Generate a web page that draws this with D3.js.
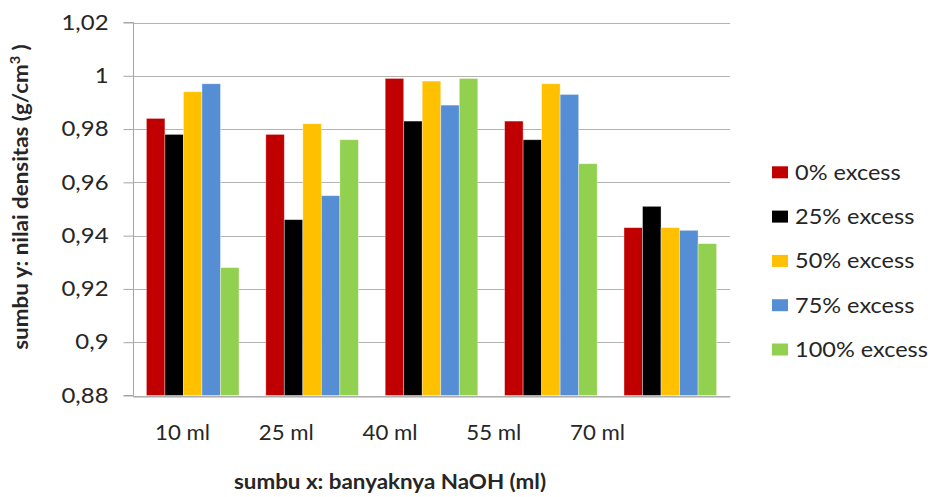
<!DOCTYPE html>
<html>
<head>
<meta charset="utf-8">
<script src="https://cdn.jsdelivr.net/npm/d3@7"></script>
<style>
  body { margin: 0; background: #fff; }
  svg { display: block; }
  text { font-family: Lato, "Open Sans", sans-serif; fill: #262626; }
</style>
</head>
<body>
<svg id="chart" width="936" height="497"></svg>
<script>
const categories = ["10 ml", "25 ml", "40 ml", "55 ml", "70 ml"];
const seriesNames = ["0% excess", "25% excess", "50% excess", "75% excess", "100% excess"];
const seriesColors = ["#C00000", "#000000", "#FFC000", "#558ED5", "#92D050"];
const s0 = [0.984, 0.978, 0.999, 0.983, 0.943];
const s25 = [0.978, 0.946, 0.983, 0.976, 0.951];
const s50 = [0.994, 0.982, 0.998, 0.997, 0.943];
const s75 = [0.997, 0.955, 0.989, 0.993, 0.942];
const s100 = [0.928, 0.976, 0.999, 0.967, 0.937];
const yTickValues = [0.88, 0.90, 0.92, 0.94, 0.96, 0.98, 1.00, 1.02];
const yTickLabels = ["0,88", "0,9", "0,92", "0,94", "0,96", "0,98", "1", "1,02"];
const yTitle = "sumbu y: nilai densitas (g/cm";
const xTitle = "sumbu x: banyaknya NaOH (ml)";

const seriesValues = [s0, s25, s50, s75, s100];
const data = categories.map((c, i) => ({
  cat: c,
  vals: seriesNames.map((s, j) => ({ s, j, v: seriesValues[j][i] }))
}));

const svg = d3.select("#chart");
const L = 133, R = 730, T = 22.5, B = 395.5;

const y = d3.scaleLinear().domain([0.88, 1.02]).range([B, T]);
const x = d3.scaleBand().domain(categories).range([L, R]).paddingInner(0.2245).paddingOuter(0.11225);
const xs = d3.scaleBand().domain(seriesNames).range([0, x.bandwidth()]);
const xLab = d3.scalePoint().domain(categories).range([182, 597]);

// gridlines
svg.append("g").selectAll("line").data(yTickValues).join("line")
  .attr("x1", L).attr("x2", R)
  .attr("y1", d => Math.round(y(d)) + 0.5).attr("y2", d => Math.round(y(d)) + 0.5)
  .attr("stroke", "#b3b3b3").attr("stroke-width", 1);

// bars
const g = svg.append("g").selectAll("g").data(data).join("g")
  .attr("transform", d => `translate(${x(d.cat)},0)`);
g.selectAll("rect").data(d => d.vals).join("rect")
  .attr("x", d => xs(d.s))
  .attr("width", xs.bandwidth())
  .attr("y", d => y(d.v))
  .attr("height", d => B - y(d.v))
  .attr("fill", d => seriesColors[d.j])
  .attr("stroke", "rgba(255,255,255,0.45)")
  .attr("stroke-width", 0.8);

// y axis
const SY = 1.14;
const ya = svg.append("g").attr("transform", `translate(${L + 0.5},0)`)
  .call(d3.axisLeft(y).tickValues(yTickValues).tickSize(10).tickPadding(15)
    .tickFormat((d, i) => yTickLabels[i]));
ya.select(".domain").attr("stroke", "#a6a6a6").attr("d", `M-10,${B}H0V${T}H-10`);
ya.selectAll(".tick line").attr("stroke", "#a6a6a6");
ya.selectAll(".tick text").attr("font-size", 21).attr("fill", "#262626")
  .attr("font-family", "Lato, 'Open Sans', sans-serif")
  .each(function () {
    const t = d3.select(this);
    const xx = +t.attr("x");
    t.attr("x", xx / SY).attr("transform", `scale(${SY},1)`);
  });

// x axis line
const xa = svg.append("g").attr("transform", `translate(0,${Math.round(B) + 0.5})`)
  .call(d3.axisBottom(x).tickSize(0).tickFormat(""));
xa.select(".domain").attr("stroke", "#a6a6a6");
// x labels
const SXL = 1.06;
const xl = svg.append("g").attr("transform", `translate(0,${B})`)
  .call(d3.axisBottom(xLab).tickSize(0).tickPadding(30));
xl.select(".domain").remove();
xl.selectAll(".tick text").attr("font-size", 21).attr("fill", "#262626")
  .attr("font-family", "Lato, 'Open Sans', sans-serif")
  .attr("transform", `scale(${SXL},1)`);

// axis titles
const ST = 1.12;
svg.append("text")
  .attr("transform", `translate(28,197) rotate(-90) scale(${ST},1)`)
  .attr("text-anchor", "middle").attr("font-size", 20).attr("font-weight", "bold")
  .attr("fill", "#1a1a1a")
  .call(t => {
    t.append("tspan").text(yTitle);
    t.append("tspan").attr("font-size", 13).attr("dy", -8).text("3");
    t.append("tspan").attr("dy", 8).text(" )");
  });
svg.append("text")
  .attr("transform", `translate(390,489) scale(${ST},1)`)
  .attr("text-anchor", "middle").attr("font-size", 20).attr("font-weight", "bold")
  .attr("fill", "#1a1a1a").text(xTitle);

// legend
const SLg = 1.12;
const lg = svg.append("g").selectAll("g").data(seriesNames).join("g")
  .attr("transform", (d, i) => `translate(772,${172.3 + i * 44.3})`);
lg.append("rect").attr("x", 0).attr("y", -6).attr("width", 16).attr("height", 12)
  .attr("fill", (d, i) => seriesColors[i]);
lg.append("text").attr("transform", `translate(23,0) scale(${SLg},1)`)
  .attr("dy", "0.36em").attr("font-size", 21).attr("fill", "#262626").text(d => d);
</script>
</body>
</html>
